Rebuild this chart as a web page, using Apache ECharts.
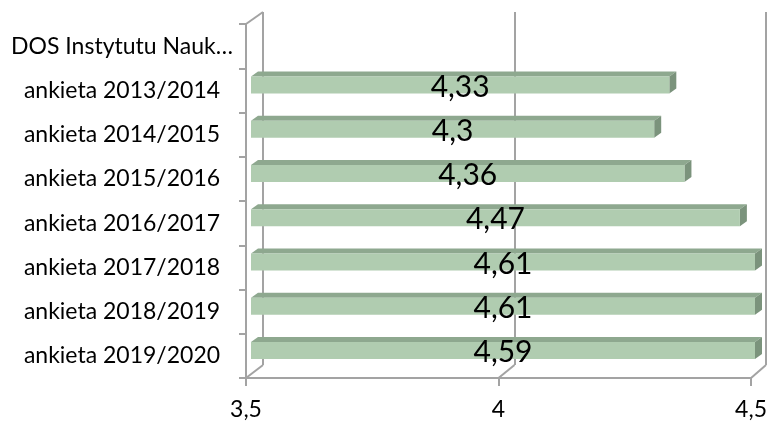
<!DOCTYPE html>
<html>
<head>
<meta charset="utf-8">
<script src="https://cdn.jsdelivr.net/npm/echarts@6/dist/echarts.min.js"></script>
<style>
  html, body { margin: 0; padding: 0; background: #fff; }
  #chart { width: 770px; height: 423px; }
</style>
</head>
<body>
<div id="chart"></div>
<script>
// dane
var categories = [
  'DOS Instytutu Nauk…',
  'ankieta 2013/2014',
  'ankieta 2014/2015',
  'ankieta 2015/2016',
  'ankieta 2016/2017',
  'ankieta 2017/2018',
  'ankieta 2018/2019',
  'ankieta 2019/2020'
]
var scores = [null, 4.33, 4.3, 4.36, 4.47, 4.61, 4.61, 4.59]
var xTicks = [3.5, 4, 4.5]

var xMin = xTicks[0]
var xMax = xTicks[xTicks.length - 1]
var gray = '#a3a3a3'
var font = 'Lato, "Open Sans", sans-serif'

function fmt(v) {
  return String(v).replace('.', ',')
}

var myChart = echarts.init(document.getElementById('chart'))

// front plane, back wall and the bar plane in between (pseudo 3D like Excel)
var front = { left: 246, top: 24, width: 506, height: 354 }
var back = { left: 263, top: 12, width: 503, height: 353 }
var mid = { left: 251, top: 18.6, width: 504, height: 354 }

var barData = []
scores.forEach(function (v, i) {
  if (v != null) barData.push([v, i])
})

function renderBar(params, api) {
  var v = Math.min(api.value(0), xMax)
  var idx = api.value(1)
  var p0 = api.coord([xMin, idx])
  var p1 = api.coord([v, idx])
  var h = 17
  var dx = 7
  var dy = -5
  var x0 = p0[0]
  var x1 = p1[0]
  var yt = p0[1] - h / 2
  var yb = p0[1] + h / 2
  return {
    type: 'group',
    children: [
      {
        type: 'polygon',
        shape: { points: [[x0, yt], [x0 + dx, yt + dy], [x1 + dx, yt + dy], [x1, yt]] },
        style: { fill: '#8ea88f' }
      },
      {
        type: 'polygon',
        shape: { points: [[x1, yt], [x1 + dx, yt + dy], [x1 + dx, yb + dy], [x1, yb]] },
        style: { fill: '#7b937c' }
      },
      {
        type: 'rect',
        shape: { x: x0, y: yt, width: x1 - x0, height: h },
        style: { fill: '#b0ccb0' }
      },
      {
        type: 'text',
        x: (x0 + x1) / 2,
        y: p0[1] + 2,
        style: {
          text: fmt(api.value(0)),
          fill: '#000',
          font: '30px ' + font,
          align: 'center',
          verticalAlign: 'middle'
        }
      }
    ]
  }
}

var option = {
  animation: false,
  grid: [front, back, mid],
  xAxis: [
    {
      gridIndex: 0,
      type: 'value',
      min: xMin,
      max: xMax,
      interval: 0.5,
      axisLine: { show: true, lineStyle: { color: gray, width: 2 } },
      axisTick: { show: true, length: 8, lineStyle: { color: gray, width: 2 } },
      axisLabel: {
        fontSize: 23,
        fontFamily: font,
        color: '#000',
        margin: 20,
        formatter: fmt
      },
      splitLine: { show: false }
    },
    {
      gridIndex: 1,
      type: 'value',
      min: xMin,
      max: xMax,
      interval: 0.5,
      axisLine: { show: false },
      axisTick: { show: false },
      axisLabel: { show: false },
      splitLine: { show: true, lineStyle: { color: gray, width: 2 } }
    },
    { gridIndex: 2, type: 'value', min: xMin, max: xMax, show: false }
  ],
  yAxis: [
    {
      gridIndex: 0,
      type: 'category',
      inverse: true,
      data: categories,
      axisLine: { show: true, lineStyle: { color: gray, width: 2 } },
      axisTick: { show: true, length: 7, lineStyle: { color: gray, width: 2 } },
      axisLabel: {
        fontSize: 23,
        fontFamily: font,
        color: '#000',
        align: 'center',
        margin: 124,
        padding: [12, 0, 0, 0]
      }
    },
    { gridIndex: 1, type: 'category', inverse: true, data: categories, show: false },
    { gridIndex: 2, type: 'category', inverse: true, data: categories, show: false }
  ],
  series: [
    {
      type: 'custom',
      xAxisIndex: 2,
      yAxisIndex: 2,
      renderItem: renderBar,
      encode: { x: 0, y: 1 },
      data: barData
    }
  ]
}

myChart.setOption(option)

// diagonal edges joining the front axes to the back wall
var edges = []
var frontBottom = front.top + front.height
var backBottom = back.top + back.height
xTicks.forEach(function (t) {
  var fx = myChart.convertToPixel({ xAxisIndex: 0 }, t)
  var bx = myChart.convertToPixel({ xAxisIndex: 1 }, t)
  edges.push({
    type: 'line',
    shape: { x1: fx, y1: frontBottom, x2: bx, y2: backBottom },
    style: { stroke: gray, lineWidth: 2 }
  })
})
edges.push({
  type: 'line',
  shape: { x1: front.left, y1: front.top, x2: back.left, y2: back.top },
  style: { stroke: gray, lineWidth: 2 }
})
myChart.setOption({ graphic: edges })
</script>
</body>
</html>
